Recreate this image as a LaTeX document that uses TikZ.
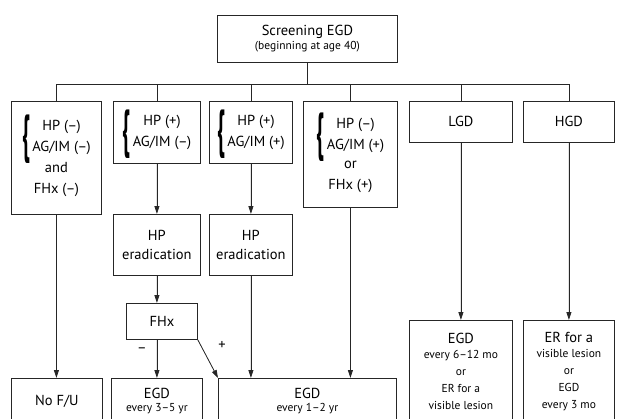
\documentclass[tikz,border=0pt]{standalone}
\usepackage{fontspec}
\setmainfont{PT Sans}
\usetikzlibrary{arrows.meta}
\newcommand{\mainsz}{\fontsize{14.5}{17}\selectfont}
\newcommand{\smallsz}{\fontsize{11.5}{16}\selectfont}
\newcommand{\heavybrace}{\raisebox{-1.5pt}[0pt][0pt]{$\vcenter{\hbox{\scalebox{1.45}[3.6]{\mainsz\bfseries\{}}}$}}
\newcommand{\bracepair}[2]{\heavybrace\,$\begin{tabular}{@{}c@{}}\mainsz #1\\[4pt]\mainsz #2\end{tabular}$}
\tikzset{
  x=1pt, y=-1pt,
  box/.style={draw=black!85, line width=0.8pt, anchor=north west, inner sep=0pt, align=center, font=\mainsz},
  conn/.style={draw=black!85, line width=0.8pt},
  arr/.style={draw=black!85, fill=black!85, line width=0.8pt, -{Triangle[length=8pt,width=5pt]}},
  lbl/.style={font=\mainsz, inner sep=0pt}
}
\begin{document}
\begin{tikzpicture}
\useasboundingbox (0,0) rectangle (617,418);
\clip (0,0) rectangle (617,418);
\coordinate (bus) at (0,84);
% top
\node[box, minimum width=180pt, minimum height=47pt] (top) at (217,15)
  {Screening EGD\\[-3pt]{\smallsz (beginning at age 40)}};
% row 1
\node[box, minimum width=90pt, minimum height=113pt] (b1) at (11,101)
  {\bracepair{HP (–)}{AG/IM (–)}\\[5pt] and\\[4pt] FHx (–)};
\node[box, minimum width=87pt, minimum height=62pt] (b2) at (113,101)
  {\bracepair{HP (+)}{AG/IM (–)}};
\node[box, minimum width=83pt, minimum height=62pt] (b3) at (209,101)
  {\bracepair{HP (+)}{AG/IM (+)}};
\node[box, minimum width=94pt, minimum height=106pt] (b4) at (303,101)
  {\bracepair{HP (–)}{AG/IM (+)}\\[5pt] or\\[4pt] FHx (+)};
\node[box, minimum width=103pt, minimum height=41pt] (lgd) at (409,101) {LGD};
\node[box, minimum width=91pt, minimum height=41pt] (hgd) at (523,101) {HGD};
% row 2
\node[box, minimum width=87pt, minimum height=61pt] (her1) at (113,214) {HP\\[2pt]eradication};
\node[box, minimum width=83pt, minimum height=61pt] (her2) at (209,214) {HP\\[2pt]eradication};
\node[box, minimum width=71pt, minimum height=36pt] (fhx) at (126,303) {FHx};
% bottom
\node[box, minimum width=91pt, minimum height=46pt] (nofu) at (11,378) {No F/U};
\node[box, minimum width=91pt, minimum height=46pt] (egd35) at (111,378)
  {EGD\\[-4pt]{\smallsz every 3–5 yr}};
\node[box, minimum width=178pt, minimum height=46pt] (egd12) at (218,378)
  {EGD\\[-4pt]{\smallsz every 1–2 yr}};
\node[box, minimum width=103pt, minimum height=102pt] (lgdr) at (409,320)
  {EGD\\[-2pt]\smallsz every 6–12 mo\\\smallsz or\\\smallsz ER for a\\\smallsz visible lesion};
\node[box, minimum width=91pt, minimum height=102pt] (hgdr) at (523,320)
  {ER for a\\[-2pt]\smallsz visible lesion\\\smallsz or\\\smallsz EGD\\\smallsz every 3 mo};
% bus
\draw[conn] (top.south) -- (top.south |- bus);
\draw[conn] (b1.north) -- (b1.north |- bus) -- (hgd.north |- bus) -- (hgd.north);
\foreach \n in {b2,b3,b4,lgd} \draw[conn] (\n.north) -- (\n.north |- bus);
% arrows
\draw[arr] (b1.south) -- (b1.south |- nofu.north);
\draw[arr] (b2.south) -- (b2.south |- her1.north);
\draw[arr] (b3.south) -- (b3.south |- her2.north);
\draw[arr] (her1.south) -- (her1.south |- fhx.north);
\draw[arr] (her1.south |- fhx.south) -- (her1.south |- egd35.north);
\draw[arr] (fhx.south east) -- (egd12.north west);
\draw[arr] (her2.south) -- (her2.south |- egd12.north);
\draw[arr] (b4.south) -- (b4.south |- egd12.north);
\draw[arr] (lgd.south) -- (lgd.south |- lgdr.north);
\draw[arr] (hgd.south) -- (hgd.south |- hgdr.north);
\node[lbl] (minus) at (142,350) {–};
\node[lbl] (plus) at (222,345) {+};
\end{tikzpicture}
\end{document}
